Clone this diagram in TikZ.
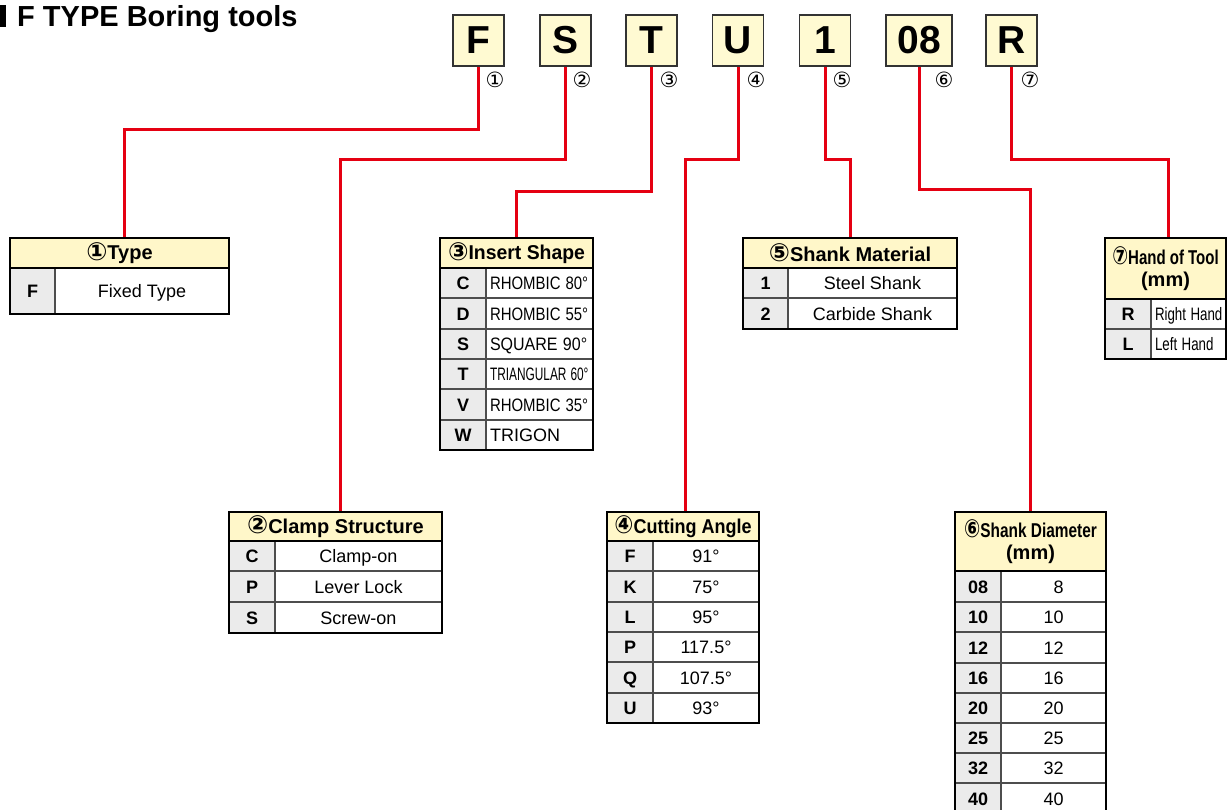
\documentclass[tikz,border=0pt]{standalone}
\usepackage{fontspec}
\setmainfont{Liberation Sans}
\newfontfamily\circfont{DejaVu Sans}
\usepackage{graphicx}
\usetikzlibrary{calc,backgrounds}
\definecolor{redln}{HTML}{E50012}
\definecolor{hdr}{HTML}{FFF7C9}
\definecolor{boxy}{HTML}{FFFAD2}
\definecolor{codeg}{HTML}{EBEBEB}
\definecolor{innerln}{HTML}{4D4D4D}
\newcommand{\cn}[1]{{\circfont\fontsize{25}{22}\selectfont\raisebox{-0.5pt}{#1}}}
\newcommand{\nw}[2]{\scalebox{#1}[1]{#2}}
% name, x0, xsplit, x1, ytop, ybot, code, value, extra value options
\newcommand{\trow}[9]{%
  \node[codecell, minimum width={(#3-#2)*1pt}, minimum height={(#6-#5)*1pt}] (#1c) at (#2,#5) {#7};
  \node[valcell, minimum width={(#4-#3)*1pt}, minimum height={(#6-#5)*1pt}, #9] (#1v) at (#3,#5) {#8};}
\tikzset{
  conn/.style={draw=redln, line width=3pt},
  codebox/.style={draw=black!80, line width=1.3pt, fill=boxy, inner sep=0pt, outer sep=0pt,
    minimum height=51pt, font=\fontsize{39}{39}\selectfont\bfseries},
  numlbl/.style={font=\circfont\fontsize{21}{21}\selectfont, inner sep=0pt},
  headcell/.style={anchor=north west, draw=black, line width=1.8pt, fill=hdr, inner sep=0pt,
    outer sep=0pt, align=center, font=\fontsize{20}{22}\selectfont\bfseries},
  codecell/.style={anchor=north west, draw=innerln, line width=1.2pt, fill=codeg, inner sep=0pt,
    outer sep=0pt, text height=13pt, text depth=0pt, font=\fontsize{18}{18}\selectfont\bfseries},
  valcell/.style={anchor=north west, draw=innerln, line width=1.2pt, fill=white, inner sep=0pt,
    outer sep=0pt, text height=13pt, text depth=0pt, font=\fontsize{18}{18}\selectfont},
  tabframe/.style={draw=black, line width=2.2pt},
}
\begin{document}
\begin{tikzpicture}[x=1pt, y=-1pt]
\useasboundingbox (0,0) rectangle (1231,810);
\begin{scope}[on background layer]
\fill[white] (0,0) rectangle (1231,810);
\end{scope}

% title
\fill[black] (0,5) rectangle (6,27);
\node[anchor=base west, inner sep=0pt, font=\fontsize{29}{29}\selectfont\bfseries] (title) at (17,27) {F TYPE Boring tools};

% code boxes
\node[codebox, minimum width=51pt] (bF) at (478.5,40.5) {F};
\node[codebox, minimum width=51pt] (bS) at (565.5,40.5) {S};
\node[codebox, minimum width=51pt] (bT) at (651.5,40.5) {T};
\node[codebox, minimum width=51pt] (bU) at (738,40.5) {U};
\node[codebox, minimum width=51pt] (b1) at (825,40.5) {1};
\node[codebox, minimum width=66pt] (b08) at (919,40.5) {08};
\node[codebox, minimum width=51pt] (bR) at (1011.5,40.5) {R};

\node[numlbl] (n1) at (495,80) {①};
\node[numlbl] (n2) at (582,80) {②};
\node[numlbl] (n3) at (669,80) {③};
\node[numlbl] (n4) at (756,80) {④};
\node[numlbl] (n5) at (842,80) {⑤};
\node[numlbl] (n6) at (944,80) {⑥};
\node[numlbl] (n7) at (1030,80) {⑦};

% ---------- tables ----------
% (1) Type
\trow{tT1}{10}{55}{229}{268}{314}{F}{Fixed Type}{}
\node[headcell, minimum width=219pt, minimum height=30pt] (tTh) at (10,238) {\cn{①}Type};
\draw[tabframe] (tTh.north west) rectangle (tT1v.south east);

% (2) Clamp Structure
\trow{tC1}{229}{275}{442}{541}{571}{C}{Clamp-on}{}
\trow{tC2}{229}{275}{442}{571}{602}{P}{Lever Lock}{}
\trow{tC3}{229}{275}{442}{602}{633}{S}{Screw-on}{}
\node[headcell, minimum width=213pt, minimum height=29pt] (tCh) at (229,512) {\cn{②}Clamp Structure};
\draw[tabframe] (tCh.north west) rectangle (tC3v.south east);

% (3) Insert Shape
\trow{tI1}{440}{486}{593}{268}{298}{C}{\nw{0.83}{RHOMBIC 80°}}{text width=99pt, align=left, inner xsep=4pt}
\trow{tI2}{440}{486}{593}{298}{329}{D}{\nw{0.83}{RHOMBIC 55°}}{text width=99pt, align=left, inner xsep=4pt}
\trow{tI3}{440}{486}{593}{329}{359}{S}{\nw{0.89}{SQUARE 90°}}{text width=99pt, align=left, inner xsep=4pt}
\trow{tI4}{440}{486}{593}{359}{389}{T}{\nw{0.66}{TRIANGULAR 60°}}{text width=99pt, align=left, inner xsep=4pt}
\trow{tI5}{440}{486}{593}{389}{420}{V}{\nw{0.83}{RHOMBIC 35°}}{text width=99pt, align=left, inner xsep=4pt}
\trow{tI6}{440}{486}{593}{420}{450}{W}{TRIGON}{text width=99pt, align=left, inner xsep=4pt}
\node[headcell, minimum width=153pt, minimum height=30pt] (tIh) at (440,238) {\nw{0.97}{\cn{③}Insert Shape}};
\draw[tabframe] (tIh.north west) rectangle (tI6v.south east);

% (4) Cutting Angle
\trow{tA1}{607}{653}{759}{541}{571}{F}{91°}{}
\trow{tA2}{607}{653}{759}{571}{602}{K}{75°}{}
\trow{tA3}{607}{653}{759}{602}{632}{L}{95°}{}
\trow{tA4}{607}{653}{759}{632}{662}{P}{117.5°}{}
\trow{tA5}{607}{653}{759}{662}{693}{Q}{107.5°}{}
\trow{tA6}{607}{653}{759}{693}{723}{U}{93°}{}
\node[headcell, minimum width=152pt, minimum height=29pt] (tAh) at (607,512) {\nw{0.9}{\cn{④}Cutting Angle}};
\draw[tabframe] (tAh.north west) rectangle (tA6v.south east);

% (5) Shank Material
\trow{tM1}{743}{788}{957}{268}{298}{1}{Steel Shank}{}
\trow{tM2}{743}{788}{957}{298}{329}{2}{Carbide Shank}{}
\node[headcell, minimum width=214pt, minimum height=30pt] (tMh) at (743,238) {\cn{⑤}Shank Material};
\draw[tabframe] (tMh.north west) rectangle (tM2v.south east);

% (6) Shank Diameter
\trow{tD1}{955}{1001}{1106}{571}{602}{08}{\phantom{0}8}{}
\trow{tD2}{955}{1001}{1106}{602}{632}{10}{10}{}
\trow{tD3}{955}{1001}{1106}{632}{663}{12}{12}{}
\trow{tD4}{955}{1001}{1106}{663}{693}{16}{16}{}
\trow{tD5}{955}{1001}{1106}{693}{723}{20}{20}{}
\trow{tD6}{955}{1001}{1106}{723}{753}{25}{25}{}
\trow{tD7}{955}{1001}{1106}{753}{783}{32}{32}{}
\trow{tD8}{955}{1001}{1106}{783}{814}{40}{40}{}
\node[headcell, minimum width=151pt, minimum height=59pt] (tDh) at (955,512) {\nw{0.77}{\cn{⑥}Shank Diameter}\\(mm)};
\draw[tabframe] (tDh.north west) rectangle (tD8v.south east);

% (7) Hand of Tool
\trow{tH1}{1105}{1151}{1226}{299}{329}{R}{\nw{0.74}{Right Hand}}{text width=67pt, align=left, inner xsep=4pt}
\trow{tH2}{1105}{1151}{1226}{329}{359}{L}{\nw{0.74}{Left Hand}}{text width=67pt, align=left, inner xsep=4pt}
\node[headcell, minimum width=121pt, minimum height=61pt] (tHh) at (1105,238) {\nw{0.75}{\cn{⑦}Hand of Tool}\\(mm)};
\draw[tabframe] (tHh.north west) rectangle (tH2v.south east);

% ---------- connectors ----------
\begin{scope}[on background layer]
\draw[conn] (bF.south) -- ++(0,64) -| ([xshift=4.5pt]tTh.north);
\draw[conn] (bS.south) -- ++(0,94) -| ([xshift=4.5pt]tCh.north);
\draw[conn] (bT.south) -- ++(0,126) -| (tIh.north);
\draw[conn] (bU.south) -- ++(0,94) -| ([xshift=2pt]tAh.north);
\draw[conn] (b1.south) -- ++(0,94) -| (tMh.north);
\draw[conn] (b08.south) -- ++(0,124) -| (tDh.north);
\draw[conn] (bR.south) -- ++(0,94) -| ([xshift=2.5pt]tHh.north);
\end{scope}
\end{tikzpicture}
\end{document}
